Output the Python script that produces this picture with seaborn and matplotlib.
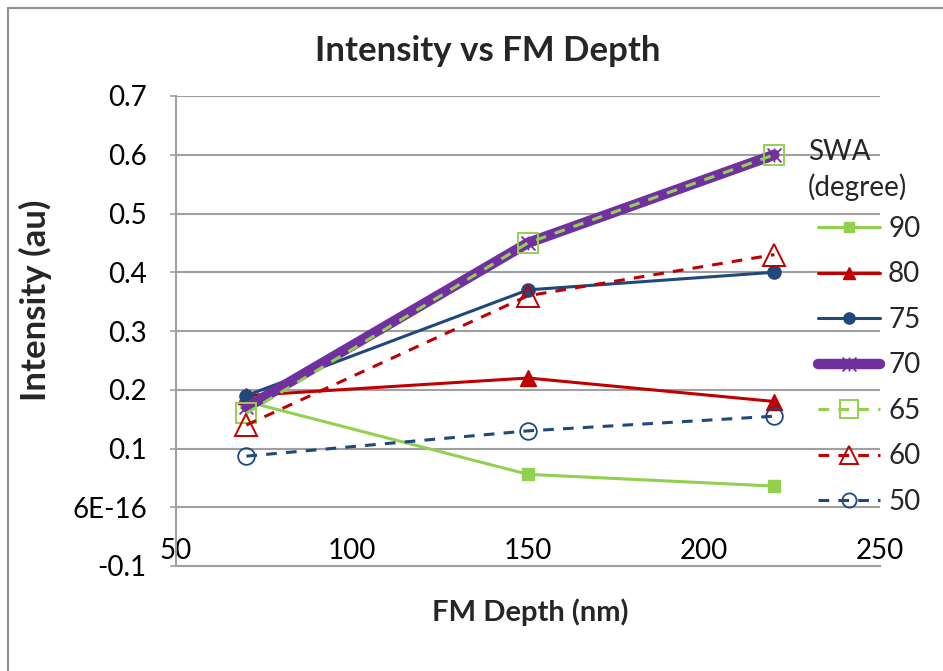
import numpy as np
import pandas as pd
import matplotlib
matplotlib.use("Agg")
import matplotlib.pyplot as plt
from matplotlib.path import Path
from matplotlib.lines import Line2D
import seaborn as sns

# ---- data ----
depth = [70, 150, 220]
swa_labels = ["90", "80", "75", "70", "65", "60", "50"]
int_90 = [0.18, 0.056, 0.036]
int_80 = [0.19, 0.22, 0.18]
int_75 = [0.19, 0.37, 0.40]
int_70 = [0.17, 0.45, 0.60]
int_65 = [0.16, 0.45, 0.60]
int_60 = [0.14, 0.36, 0.43]
int_50 = [0.087, 0.13, 0.155]
y_ticks = [-0.1, 0.0, 0.1, 0.2, 0.3, 0.4, 0.5, 0.6, 0.7]
y_tick_labels = ["-0.1", "6E-16", "0.1", "0.2", "0.3", "0.4", "0.5", "0.6", "0.7"]
x_ticks = [50, 100, 150, 200, 250]
x_tick_labels = ["50", "100", "150", "200", "250"]

series = [int_90, int_80, int_75, int_70, int_65, int_60, int_50]
df = pd.DataFrame({
    "depth": np.tile(depth, len(series)),
    "intensity": np.concatenate(series),
    "swa": np.repeat(swa_labels, len(depth)),
})

sns.set_theme(style="white")
plt.rcParams["font.family"] = ["Lato", "DejaVu Sans"]

GREEN = "#92D050"
RED = "#C00000"
BLUE = "#1F497D"
PURPLE = "#7030A0"

star = Path(
    [(-1, -1), (1, 1), (-1, 1), (1, -1), (0, -1), (0, 1)],
    [Path.MOVETO, Path.LINETO, Path.MOVETO, Path.LINETO, Path.MOVETO, Path.LINETO],
)

styles = {
    "90": dict(color=GREEN, lw=2.2, ls="-", marker="s", ms=9, mfc=GREEN, mec=GREEN, mew=1),
    "80": dict(color=RED, lw=2.2, ls="-", marker="^", ms=11, mfc=RED, mec=RED, mew=1),
    "75": dict(color=BLUE, lw=2.2, ls="-", marker="o", ms=9.5, mfc=BLUE, mec=BLUE, mew=1),
    "70": dict(color=PURPLE, lw=7.5, ls="-", marker=star, ms=10, mfc="none", mec=PURPLE, mew=1.3),
    "65": dict(color=GREEN, lw=2.2, ls=(0, (3.5, 3)), marker="s", ms=15, mfc="none", mec=GREEN, mew=1.4),
    "60": dict(color=RED, lw=2.2, ls=(0, (3.5, 3)), marker="^", ms=16, mfc="none", mec=RED, mew=1.4),
    "50": dict(color=BLUE, lw=2.2, ls=(0, (3.5, 3)), marker="o", ms=12, mfc="none", mec=BLUE, mew=1.3),
}

fig = plt.figure(figsize=(9.43, 6.71), dpi=100)
ax = fig.add_axes([176 / 943, 1 - 566 / 671, (880 - 176) / 943, (566 - 96) / 671])

handles = []
for lab in swa_labels:
    st = styles[lab]
    sub = df[df["swa"] == lab]
    sns.lineplot(data=sub, x="depth", y="intensity", ax=ax, color=st["color"],
                 linewidth=st["lw"], linestyle=st["ls"], marker=st["marker"],
                 markersize=st["ms"], markerfacecolor=st["mfc"],
                 markeredgecolor=st["mec"], markeredgewidth=st["mew"],
                 legend=False, errorbar=None, sort=False,
                 solid_capstyle="round" if lab == "70" else "projecting")
    handles.append(Line2D([], [], color=st["color"], lw=st["lw"], ls=st["ls"],
                          marker=st["marker"], ms=st["ms"] * (0.85 if lab != "70" else 1),
                          mfc=st["mfc"], mec=st["mec"], mew=st["mew"],
                          solid_capstyle="round"))

ax.set_xlim(50, 250)
ax.set_ylim(-0.1, 0.7)
ax.set_yticks(y_ticks)
ax.set_yticklabels(y_tick_labels)
ax.set_xticks(x_ticks)
ax.set_xticklabels(x_tick_labels)
ax.set_xlabel("")
ax.set_ylabel("")
ax.grid(axis="y", color="#A0A0A0", lw=1.5)
ax.grid(axis="x", visible=False)
ax.set_axisbelow(True)
for s in ["top", "right"]:
    ax.spines[s].set_visible(False)
for s in ["left", "bottom"]:
    ax.spines[s].set_color("#A0A0A0")
    ax.spines[s].set_linewidth(1.5)
ax.tick_params(axis="y", which="both", left=True, length=4, width=1.2, color="#A0A0A0",
               pad=17, labelsize=20, labelcolor="black")
ax.tick_params(axis="x", which="both", bottom=False, length=0, pad=-20,
               labelsize=20, labelcolor="black")

# title & axis labels
fig.text(488 / 943, 1 - 51 / 671, "Intensity vs FM Depth", ha="center", va="center",
         fontsize=25, fontweight="bold")
fig.text(35 / 943, 1 - 300 / 671, "Intensity (au)", ha="center", va="center",
         rotation=90, fontsize=25, fontweight="bold")
fig.text(530 / 943, 1 - 612 / 671, "FM Depth (nm)", ha="center", va="center",
         fontsize=21, fontweight="bold")

# legend
fig.text(808 / 943, 1 - 152 / 671, "SWA", ha="left", va="center", fontsize=20)
fig.text(808 / 943, 1 - 187 / 671, "(degree)", ha="left", va="center", fontsize=20)
leg = fig.legend(handles, swa_labels, loc="upper left",
                 bbox_to_anchor=(818 / 943, 1 - 216 / 671), frameon=False,
                 fontsize=20, handlelength=2.23, handletextpad=0.29,
                 labelspacing=0.70, borderpad=0, borderaxespad=0)

# outer chart border (top and left)
fig.add_artist(Line2D([8 / 943, 1], [1 - 8 / 671, 1 - 8 / 671], color="#909090", lw=1.5,
                      transform=fig.transFigure))
fig.add_artist(Line2D([8 / 943, 8 / 943], [0, 1 - 8 / 671], color="#909090", lw=1.5,
                      transform=fig.transFigure))

fig.savefig("out.png", dpi=100)
